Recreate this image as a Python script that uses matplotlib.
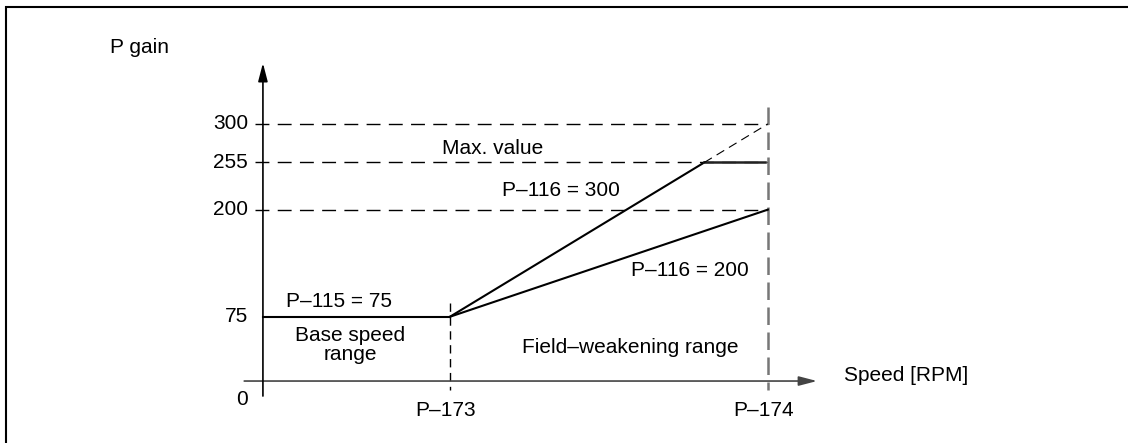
import matplotlib
matplotlib.use('Agg')
import matplotlib.pyplot as plt

plt.rcParams['font.family'] = ['Liberation Sans', 'DejaVu Sans']

# schematic positions on the speed axis: origin, P-173, P-174
speed_pos = [0.0, 1.0, 2.7]
speed_labels = ['P\u2013173', 'P\u2013174']
gain_ticks = [300, 255, 200, 75]
gain_labels = ['300', '255', '200', '75']
base_gain = 75
max_gain = 255
p116_high = 300
p116_low = 200

fig = plt.figure(figsize=(11.28, 4.43), dpi=100)
ax = fig.add_axes([0, 0, 1, 1])
ax.set_xlim(-1.406, 4.626)
ax.set_ylim(-72.3, 444.6)
ax.axis('off')

# frame (only top and left edges fall inside the picture)
fig.patches.append(plt.Rectangle((5.5 / 1128, -0.2), 1.5, 1.2 - 6.5 / 443,
                                 transform=fig.transFigure, fill=False,
                                 lw=1.5, color='black'))

x0, x1, x2 = speed_pos

# axes with arrows
arrow = '-|>,head_width=0.13,head_length=0.5'
ax.annotate('', xy=(2.963, 0), xytext=(-0.1, 0),
            arrowprops=dict(arrowstyle=arrow, color='#444444', lw=1.2,
                            mutation_scale=22, shrinkA=0, shrinkB=0))
ax.annotate('', xy=(x0, 371), xytext=(x0, -17.5),
            arrowprops=dict(arrowstyle=arrow, color='black', lw=1.2,
                            mutation_scale=22, shrinkA=0, shrinkB=0))

# dashed reference levels
for g in [p116_high, max_gain, p116_low]:
    ax.plot([-0.04, x2], [g, g], color='black', lw=1.0, dashes=(10, 6))

# dashed verticals at P-173 and P-174
ax.plot([x1, x1], [91, -10.5], color='black', lw=1.0, dashes=(6, 4))
ax.plot([x2, x2], [319.7, -10.5], color='#777777', lw=1.8, dashes=(7, 3))

# base speed range
ax.plot([x0, x1], [base_gain, base_gain], color='black', lw=1.5)

# P-116 = 300, limited to the max value
slope = (p116_high - base_gain) / (x2 - x1)
x_cross = x1 + (max_gain - base_gain) / slope
ax.plot([x1, x_cross], [base_gain, max_gain], color='black', lw=1.5)
ax.plot([x_cross, x2 - 0.016], [max_gain, max_gain], color='#222222', lw=1.8)
ax.plot([x_cross, x2], [max_gain, p116_high], color='black', lw=0.8,
        dashes=(8, 5))

# P-116 = 200
ax.plot([x1, x2], [base_gain, p116_low], color='black', lw=1.5)

fs = 15
for g, lab in zip(gain_ticks, gain_labels):
    ax.text(-0.08, g, lab, ha='right', va='center', fontsize=fs)
ax.text(-0.08, -22, '0', ha='right', va='center', fontsize=fs)
for xp, lab in zip(speed_pos[1:], speed_labels):
    ax.text(xp - 0.025, -34.5, lab, ha='center', va='center', fontsize=fs)

ax.text(-0.818, 388.6, 'P gain', ha='left', va='center', fontsize=fs)
ax.text(3.107, 7, 'Speed [RPM]', ha='left', va='center', fontsize=fs)
ax.text(0.406, 93.3, 'P\u2013115 = 75', ha='center', va='center', fontsize=fs)
ax.text(0.465, 42, 'Base speed\nrange', ha='center', va='center',
        fontsize=fs, linespacing=1.05)
ax.text(1.23, 271.9, 'Max. value', ha='center', va='center', fontsize=fs)
ax.text(1.594, 222.9, 'P\u2013116 = 300', ha='center', va='center', fontsize=fs)
ax.text(2.283, 129.5, 'P\u2013116 = 200', ha='center', va='center', fontsize=fs)
ax.text(1.963, 39.7, 'Field\u2013weakening range', ha='center', va='center',
        fontsize=fs)

fig.savefig('out.png', dpi=100)
